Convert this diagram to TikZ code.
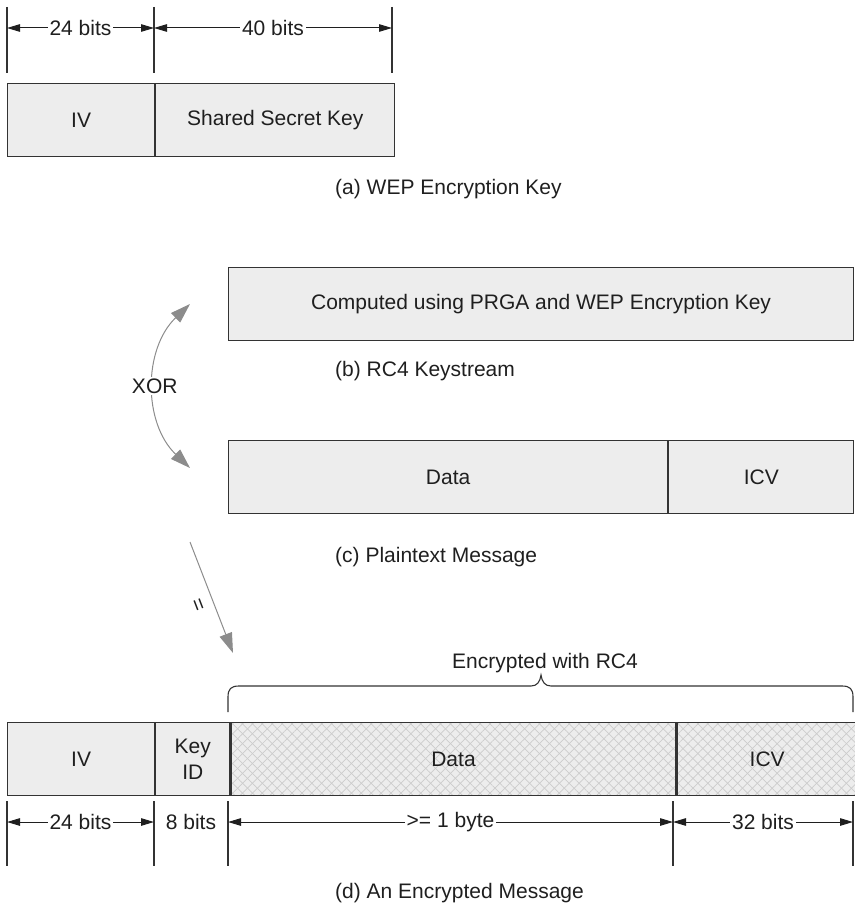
\documentclass[tikz,border=0pt]{standalone}
\usepackage{fontspec}
\setmainfont{Liberation Sans}
\usepackage{xcolor}
\usepackage{tikz}
\usetikzlibrary{arrows.meta,patterns.meta}

\newcommand{\lbl}{\fontsize{21}{26}\selectfont}

\begin{document}
\begin{tikzpicture}[x=1pt,y=-1pt,
  field/.style={draw=black!80,line width=1.2pt,fill=gray!14,anchor=north west,
    inner sep=0pt,minimum height=73pt,text=black!88,font=\lbl,align=center},
  hatched/.style={field,
    postaction={pattern={Lines[angle=45,distance=7pt,line width=0.7pt]},pattern color=black!20},
    postaction={pattern={Lines[angle=-45,distance=7pt,line width=0.7pt]},pattern color=black!20},
    postaction={draw=black!80,line width=1.2pt}},
  tick/.style={draw=black!80,line width=1.1pt},
  dim/.style={{Triangle[length=13pt,width=7.5pt]}-{Triangle[length=13pt,width=7.5pt]},
    line width=1pt,black!88},
  dimlabel/.style={fill=white,inner xsep=2pt,inner ysep=1pt,text=black!88,font=\lbl},
  caption/.style={anchor=west,inner sep=0pt,text=black!88,font=\lbl},
  xorarr/.style={{Triangle[length=20pt,width=13pt]}-{Triangle[length=20pt,width=13pt]},
    line width=1pt,black!45},
  eqarr/.style={-{Triangle[length=20pt,width=13pt]},line width=1pt,black!45}]
  \useasboundingbox (0,0) rectangle (854,907);

  % (a) key sizes
  \foreach \n/\x in {a0/7,a1/154,a2/392} {
    \draw[tick] (\x,7) -- (\x,73);
    \coordinate (\n) at (\x,28);
  }
  \draw[dim] (a0) -- node[dimlabel] {24 bits} (a1);
  \draw[dim] (a1) -- node[dimlabel] {40 bits} (a2);

  % (a) WEP key
  \node[field,minimum width=147pt] (ivA) at (7,83) {IV};
  \node[field,minimum width=239pt] (secret) at (ivA.north east) {Shared Secret Key};
  \node[caption] (capA) at (335,189) {(a) WEP Encryption Key};

  % (b) keystream
  \node[field,minimum width=625pt] (stream) at (228,267)
    {Computed using PRGA and WEP Encryption Key};
  \node[caption] (capB) at (335,371) {(b) RC4 Keystream};

  % (c) plaintext
  \node[field,minimum width=439pt] (dataC) at (228,440) {Data};
  \node[field,minimum width=185pt] (icvC) at (dataC.north east) {ICV};
  \node[caption] (capC) at (335,557) {(c) Plaintext Message};

  % XOR
  \coordinate (xorTop) at (190,304);
  \coordinate (xorBot) at (190,468);
  \draw[xorarr] (xorTop) .. controls (143,349) and (143,423) ..
    node[fill=white,inner sep=2pt,text=black!88,font=\lbl] (xor) {XOR} (xorBot);

  % =
  \coordinate (eqFrom) at (190,542);
  \coordinate (eqTo) at (233,653);
  \draw[eqarr] (eqFrom) -- (eqTo);
  \node[text=black!88,font=\lbl,rotate=-69] (eq) at (197,605) {=};

  % encrypted part
  \node[text=black!88,font=\lbl] (enc) at (545,663) {Encrypted with RC4};
  \draw[line width=1.1pt,black!80] (228,712) -- (228,697)
    .. controls (228,689) and (231,686) .. (239,686) -- (531,686)
    .. controls (537,686) and (540,682) .. (541,675)
    .. controls (542,682) and (545,686) .. (551,686) -- (842,686)
    .. controls (850,686) and (853,689) .. (853,697) -- (853,712);

  % (d) encrypted message
  \node[field,minimum width=147pt] (ivD) at (7,722) {IV};
  \node[field,minimum width=74pt] (keyid) at (ivD.north east) {Key\\ID};
  \node[hatched,minimum width=445pt] (dataD) at (keyid.north east) {Data};
  \node[hatched,minimum width=180pt] (icvD) at (dataD.north east) {ICV};

  % (d) sizes
  \foreach \n/\x in {d0/7,d1/154,d2/228,d3/673,d4/853} {
    \draw[tick] (\x,801) -- (\x,866);
    \coordinate (\n) at (\x,822);
  }
  \draw[dim] (d0) -- node[dimlabel] {24 bits} (d1);
  \path (d1) -- node[dimlabel] {8 bits} (d2);
  \draw[dim] (d2) -- node[dimlabel] {>= 1 byte} (d3);
  \draw[dim] (d3) -- node[dimlabel] {32 bits} (d4);
  \node[caption] (capD) at (335,893) {(d) An Encrypted Message};
\end{tikzpicture}
\end{document}
